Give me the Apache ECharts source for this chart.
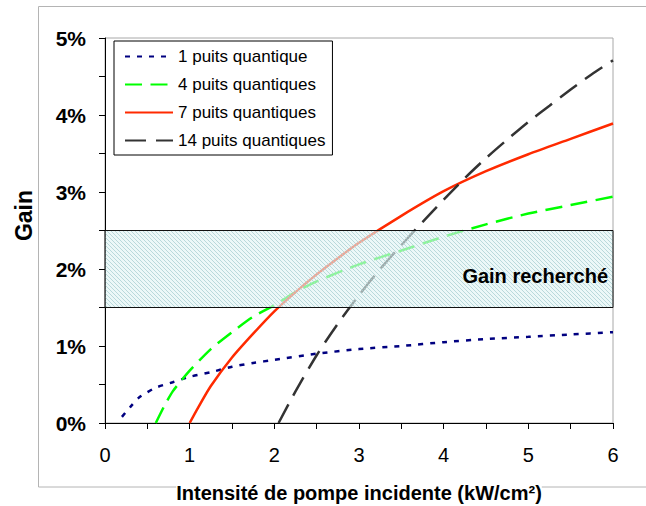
<!DOCTYPE html>
<html>
<head>
<meta charset="utf-8">
<script src="https://cdn.jsdelivr.net/npm/echarts@6/dist/echarts.min.js"></script>
<style>
html,body{margin:0;padding:0;background:#fff;}
#chart{width:646px;height:506px;}
</style>
</head>
<body>
<div id="chart"></div>
<script>
// ---- data ----
const seriesNames = ['1 puits quantique', '4 puits quantiques', '7 puits quantiques', '14 puits quantiques'];

const x1 = [0.2, 0.3, 0.4, 0.5, 0.6, 0.8, 1.0, 1.25, 1.5, 1.75, 2.0, 2.5, 3.0, 3.5, 4.0, 4.5, 5.0, 5.5, 6.0];
const y1 = [0.08, 0.21, 0.33, 0.40, 0.46, 0.53, 0.60, 0.66, 0.73, 0.78, 0.82, 0.90, 0.96, 1.00, 1.05, 1.09, 1.12, 1.15, 1.18];

const x4 = [0.6, 0.7, 0.8, 0.9, 1.0, 1.25, 1.5, 1.75, 2.0, 2.25, 2.5, 3.0, 3.5, 4.0, 4.5, 5.0, 5.5, 6.0];
const y4 = [0.00, 0.22, 0.41, 0.55, 0.68, 0.96, 1.18, 1.38, 1.53, 1.70, 1.84, 2.06, 2.24, 2.42, 2.58, 2.72, 2.83, 2.94];

const x7 = [1.0, 1.1, 1.25, 1.5, 1.75, 2.0, 2.25, 2.5, 2.75, 3.0, 3.5, 4.0, 4.5, 5.0, 5.5, 6.0];
const y7 = [0.00, 0.20, 0.48, 0.85, 1.16, 1.45, 1.70, 1.93, 2.14, 2.34, 2.69, 3.01, 3.27, 3.49, 3.69, 3.89];

const x14 = [2.05, 2.25, 2.5, 2.75, 3.0, 3.25, 3.5, 3.75, 4.0, 4.25, 4.5, 4.75, 5.0, 5.25, 5.5, 5.75, 6.0];
const y14 = [0.00, 0.41, 0.88, 1.29, 1.66, 2.00, 2.31, 2.61, 2.90, 3.18, 3.44, 3.68, 3.91, 4.12, 4.33, 4.53, 4.71];

const band = [0, 1.5, 6, 2.5];           // x from, gain low, x to, gain high
const bandLabel = 'Gain recherché';
const xAxisTitle = 'Intensité de pompe incidente (kW/cm²)';
const yAxisTitle = 'Gain';

// ---- styles ----
const FONT = '"Liberation Sans", Arial, sans-serif';
const colors = ['#000080', '#00ff00', '#ff2a00', '#333333'];
const dashes = [[5, 7], [17, 8.5], 'solid', [21, 10]];
const widths = [2.5, 2.5, 2.5, 2.5];

function pairs(xs, ys) { return xs.map((x, i) => [x, ys[i]]); }
const xs = [x1, x4, x7, x14];
const ys = [y1, y4, y7, y14];

// hatch pattern for the band
function makeHatch() {
  const c = document.createElement('canvas');
  c.width = 4; c.height = 4;
  const g = c.getContext('2d');
  g.fillStyle = 'rgba(224,244,244,0.62)';
  g.fillRect(0, 0, 4, 4);
  g.fillStyle = 'rgba(165,205,208,0.72)';
  for (let i = 0; i < 4; i++) g.fillRect(i, i, 1, 1);
  return c.toDataURL();
}
const hatch = { image: makeHatch(), imageWidth: 4, imageHeight: 4, repeat: 'repeat' };

const chart = echarts.init(document.getElementById('chart'), null, { renderer: 'svg' });

const lineSeries = seriesNames.map((name, i) => ({
  name: name,
  type: 'line',
  data: pairs(xs[i], ys[i]),
  symbol: 'none',
  smooth: 0.25,
  z: 2,
  lineStyle: { color: colors[i], width: widths[i], type: dashes[i], cap: 'butt' },
  itemStyle: { color: colors[i] }
}));

const bandSeries = {
  type: 'custom',
  name: 'band',
  z: 5,
  silent: true,
  data: [band],
  renderItem: function (params, api) {
    const p1 = api.coord([api.value(0), api.value(3)]);
    const p2 = api.coord([api.value(2), api.value(1)]);
    return {
      type: 'group',
      children: [
        {
          type: 'rect',
          shape: { x: p1[0], y: p1[1], width: p2[0] - p1[0], height: p2[1] - p1[1] },
          style: { fill: hatch, stroke: '#111', lineWidth: 1 }
        },
        {
          type: 'text',
          x: p2[0] - 5,
          y: (p1[1] + p2[1]) / 2 + 7,
          style: {
            text: bandLabel, fill: '#000', font: 'bold 20px ' + FONT,
            align: 'right', verticalAlign: 'middle'
          }
        }
      ]
    };
  }
};

chart.setOption({
  animation: false,
  backgroundColor: '#fff',
  graphic: [{
    type: 'rect', z: -10, silent: true,
    shape: { x: 38.5, y: 6.5, width: 640, height: 480.5 },
    style: { fill: 'none', stroke: '#b4b4b4', lineWidth: 1 }
  }],
  grid: {
    left: 105, right: 33, top: 38, bottom: 83,
    outerBoundsMode: 'none', containLabel: false,
    show: true, borderColor: '#a8a8a8', borderWidth: 1, backgroundColor: 'transparent'
  },
  legend: {
    data: seriesNames,
    orient: 'vertical',
    left: 114, top: 41,
    itemWidth: 48, itemHeight: 20, itemGap: 11,
    padding: [7, 7, 6, 10],
    backgroundColor: '#fff',
    borderColor: '#000', borderWidth: 1,
    itemStyle: { opacity: 0 },
    textStyle: { fontSize: 17, color: '#000', fontFamily: FONT },
    selectedMode: false
  },
  xAxis: {
    type: 'value', min: 0, max: 6, interval: 1,
    name: xAxisTitle, nameLocation: 'middle', nameGap: 60,
    nameTextStyle: { fontSize: 20, fontWeight: 'bold', color: '#000', fontFamily: FONT,
      backgroundColor: '#fff', lineHeight: 20, padding: [0, 0, 0, 0] },
    axisLine: { show: true, lineStyle: { color: '#000', width: 1 } },
    axisTick: { show: true, length: 6, lineStyle: { color: '#000' } },
    minorTick: { show: true, splitNumber: 2, length: 6, lineStyle: { color: '#000' } },
    splitLine: { show: false },
    axisLabel: { fontSize: 20, color: '#000', fontFamily: FONT, margin: 22 }
  },
  yAxis: {
    type: 'value', min: 0, max: 5, interval: 1,
    name: yAxisTitle, nameLocation: 'middle', nameGap: 70,
    nameTextStyle: { fontSize: 23, fontWeight: 'bold', color: '#000', fontFamily: FONT,
      padding: [0, 0, 0, 30] },
    axisLine: { show: true, lineStyle: { color: '#000', width: 1 } },
    axisTick: { show: true, length: 6, lineStyle: { color: '#000' } },
    minorTick: { show: true, splitNumber: 2, length: 6, lineStyle: { color: '#000' } },
    splitLine: { show: false },
    axisLabel: { fontSize: 21, fontWeight: 'bold', color: '#000', fontFamily: FONT, margin: 19,
      formatter: '{value}%' }
  },
  series: lineSeries.concat([bandSeries])
});
</script>
</body>
</html>
